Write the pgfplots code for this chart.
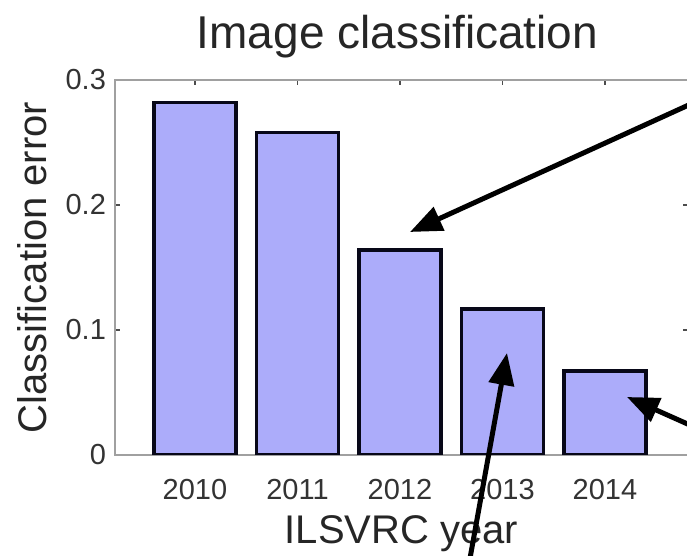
\documentclass[border=0pt]{standalone}
\usepackage{pgfplots}
\pgfplotsset{compat=1.18}
\usepackage{fontspec}
\setmainfont{Liberation Sans}
\usetikzlibrary{arrows.meta}
\definecolor{barfill}{RGB}{172,172,250}
\definecolor{baredge}{RGB}{8,8,24}
\definecolor{axgray}{RGB}{160,160,160}
\begin{document}
\begin{tikzpicture}
\useasboundingbox (-57.5pt,-50.5pt) rectangle (286pt,227.5pt);
\clip (-57.5pt,-50.5pt) rectangle (286pt,227.5pt);
\begin{axis}[
  at={(0pt,0pt)}, anchor=south west,
  scale only axis, width=286.5pt, height=187.5pt,
  xmin=2009.22, xmax=2014.81, ymin=0, ymax=0.3,
  ybar, bar width=0.8,
  axis line style={draw=axgray, line width=1pt},
  tick align=inside, major tick length=2.5pt,
  tick style={draw=black!70, line width=0.6pt},
  xtick={2010,2011,2012,2013,2014},
  xticklabels={2010,2011,2012,2013,2014},
  ytick={0,0.1,0.2,0.3},
  yticklabels={0,0.1,0.2,0.3},
  ticklabel style={font=\fontsize{14.5}{16}\selectfont, text=black!80},
  xticklabel style={anchor=base, yshift=-22.5pt},
  yticklabel style={anchor=east, xshift=-1pt},
  title={Image classification},
  title style={at={(axis description cs:0.493,1.052)}, anchor=base, font=\fontsize{23}{26}\selectfont, text=black!85},
  xlabel={ILSVRC year},
  xlabel style={at={(axis description cs:0.5,-0.2347)}, anchor=base, font=\fontsize{20}{22}\selectfont, text=black!85},
  ylabel={Classification error},
  ylabel style={at={(axis description cs:-0.1187,0.5)}, anchor=base, rotate=0, font=\fontsize{20}{22}\selectfont, text=black!85},
]
\addplot[fill=barfill, draw=baredge, line width=1.9pt] coordinates {
  (2010,0.282) (2011,0.258) (2012,0.164) (2013,0.117) (2014,0.067)
};
\end{axis}
\draw[line width=2.5pt, -{Triangle[length=16pt,width=12.5pt]}] (300pt,181pt) -- (147.5pt,111.5pt);
\draw[line width=2.5pt, -{Triangle[length=16pt,width=12.5pt]}] (176pt,-60pt) -- (196pt,51pt);
\draw[line width=2.5pt, -{Triangle[length=16pt,width=12.5pt]}] (297.5pt,10.5pt) -- (256pt,29pt);
\end{tikzpicture}
\end{document}
